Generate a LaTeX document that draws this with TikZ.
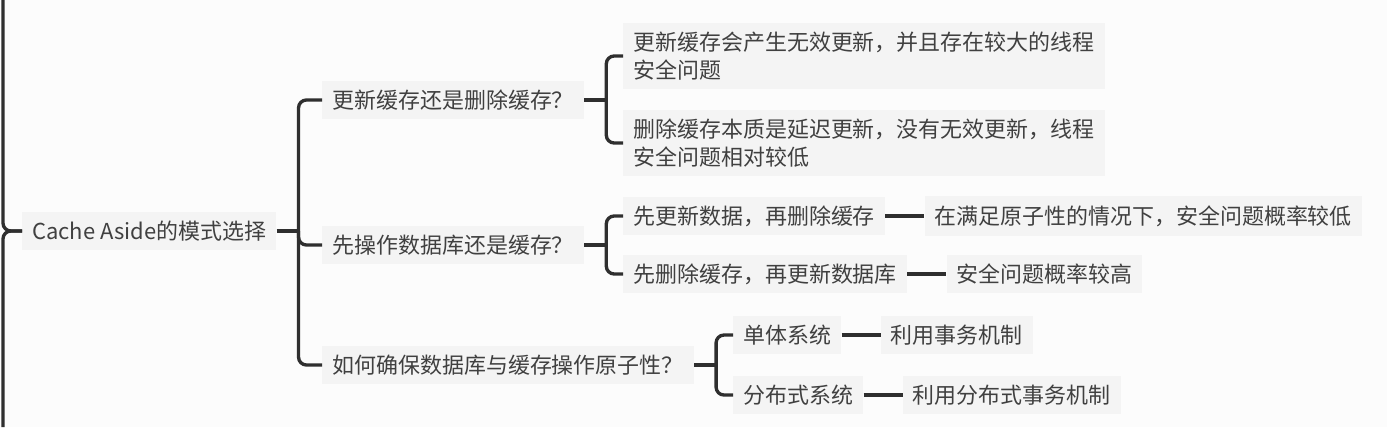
\documentclass[tikz,border=0pt]{standalone}
\usepackage{fontspec}
\setmainfont{Noto Sans CJK SC}
\usetikzlibrary{positioning}
\definecolor{inkgray}{HTML}{2F2F2F}
\definecolor{textgray}{HTML}{404040}
\definecolor{boxgray}{HTML}{F4F4F4}
\definecolor{paper}{HTML}{FCFCFC}
\tikzset{
  topic/.style={fill=boxgray, text=textgray, anchor=west, inner xsep=0.2cm, inner ysep=0.18cm, align=left, font=\fontsize{12.5}{15.9}\selectfont},
  link/.style={draw=inkgray, line width=1.9pt, rounded corners=4.5pt},
  tie/.style={draw=inkgray, line width=1.9pt}
}
\begin{document}
\begin{tikzpicture}[x=0.02cm,y=-0.02cm]
\fill[paper] (0,0) rectangle (1387,427);
\useasboundingbox (0,0) rectangle (1387,427);

    \node[topic] (root) at (22,231) {Cache Aside的模式选择};
    \node[topic] (q1) at (322,100) {更新缓存还是删除缓存？};
    \node[topic] (q2) at (322,245) {先操作数据库还是缓存？};
    \node[topic] (q3) at (322,365) {如何确保数据库与缓存操作原子性？};

    \node[topic] (a1) at (623,56) {更新缓存会产生无效更新，并且存在较大的线程\\安全问题};
    \node[topic] (a2) at (623,143) {删除缓存本质是延迟更新，没有无效更新，线程\\安全问题相对较低};

    \node[topic] (b1) at (623,216) {先更新数据，再删除缓存};
    \node[topic, right=0.78cm of b1] (b1r) {在满足原子性的情况下，安全问题概率较低};
    \node[topic] (b2) at (623,274) {先删除缓存，再更新数据库};
    \node[topic, right=0.78cm of b2] (b2r) {安全问题概率较高};

    \node[topic] (c1) at (733,335) {单体系统};
    \node[topic, right=0.78cm of c1] (c1r) {利用事务机制};
    \node[topic] (c2) at (733,395) {分布式系统};
    \node[topic, right=0.78cm of c2] (c2r) {利用分布式事务机制};

%% branch coming in from the left edge
    \coordinate (edgetop) at (3,0);
    \coordinate (edgebot) at (3,427);
    \draw[link] (edgetop) |- (root.west);
    \draw[link] (edgebot) |- (root.west);

%% brackets
    \draw[tie] (root.east) -- ++(22,0) coordinate (j0);
    \foreach \c in {q1,q2,q3} \draw[link] (j0) |- (\c.west);
    \draw[tie] (q1.east) -- ++(22,0) coordinate (j1);
    \foreach \c in {a1,a2} \draw[link] (j1) |- (\c.west);
    \draw[tie] (q2.east) -- ++(22,0) coordinate (j2);
    \foreach \c in {b1,b2} \draw[link] (j2) |- (\c.west);
    \draw[tie] (q3.east) -- ++(22,0) coordinate (j3);
    \foreach \c in {c1,c2} \draw[link] (j3) |- (\c.west);

    \foreach \l/\r in {b1/b1r,b2/b2r,c1/c1r,c2/c2r} \draw[tie, line width=2.3pt] (\l.east) -- (\r.west);
\end{tikzpicture}
\end{document}
